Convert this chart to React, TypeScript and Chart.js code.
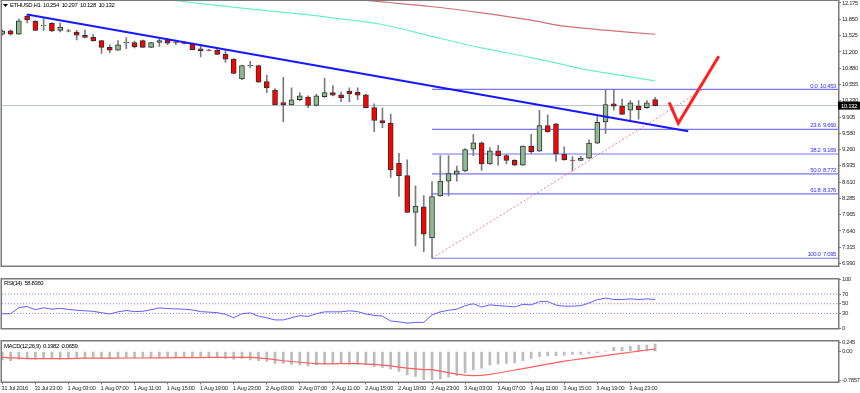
import React, { useEffect, useRef } from "react";
import { Chart, registerables } from "chart.js";
Chart.register(...registerables);

const FONT = "'Liberation Sans', Arial, sans-serif";

// ETHUSD H1 candles, index 0 = 31 Jul 2016 19:00
const opens = [11.551, 11.622, 11.551, 11.914, 11.813, 11.720, 11.769, 11.628, 11.620, 11.597,
  11.532, 11.489, 11.426, 11.292, 11.235, 11.378, 11.387, 11.426, 11.292, 11.387,
  11.437, 11.397, 11.378, 11.361, 11.260, 11.239, 11.235, 11.151, 11.056, 10.663,
  10.924, 10.930, 10.612, 10.434, 10.192, 10.148, 10.249, 10.301, 10.135, 10.312,
  10.389, 10.345, 10.421, 10.396, 10.345, 10.091, 9.836, 9.786, 8.991, 8.738,
  8.006, 8.120, 7.499, 8.337, 8.629, 8.768, 8.833, 9.264, 9.392, 8.972,
  9.233, 9.138, 9.043, 8.947, 9.329, 9.226, 9.735, 9.767, 9.169, 9.047,
  9.043, 9.087, 9.386, 9.805, 10.168, 10.122, 10.040, 10.116, 10.091, 10.254];
const highs = [11.641, 11.641, 11.851, 11.946, 11.822, 11.864, 11.784, 11.775, 11.647, 11.628,
  11.641, 11.546, 11.431, 11.342, 11.426, 11.483, 11.418, 11.437, 11.393, 11.456,
  11.469, 11.437, 11.412, 11.374, 11.311, 11.250, 11.279, 11.227, 11.069, 10.936,
  11.012, 10.936, 10.739, 10.472, 10.694, 10.484, 10.389, 10.326, 10.358, 10.675,
  10.530, 10.402, 10.484, 10.484, 10.354, 10.168, 10.084, 9.963, 9.182, 9.054,
  8.534, 8.343, 8.623, 9.138, 9.138, 8.928, 9.277, 9.563, 9.411, 9.296,
  9.340, 9.163, 9.058, 9.334, 9.563, 10.040, 9.944, 9.773, 9.310, 9.119,
  9.125, 9.449, 9.912, 10.440, 10.453, 10.263, 10.230, 10.230, 10.230, 10.297];
const lows = [11.527, 11.532, 11.546, 11.775, 11.622, 11.628, 11.603, 11.597, 11.597, 11.437,
  11.479, 11.412, 11.170, 11.184, 11.231, 11.266, 11.279, 11.288, 11.288, 11.311,
  11.342, 11.342, 11.355, 11.241, 11.102, 11.220, 11.145, 10.993, 10.764, 10.650,
  10.884, 10.593, 10.389, 10.145, 9.805, 10.145, 10.230, 10.091, 10.126, 10.293,
  10.326, 10.211, 10.211, 10.249, 10.085, 9.615, 9.691, 8.705, 8.324, 8.000,
  7.339, 7.224, 7.095, 8.324, 8.337, 8.629, 8.820, 9.138, 8.845, 8.963,
  8.947, 8.972, 8.938, 8.940, 9.182, 9.220, 9.601, 9.029, 9.040, 8.833,
  9.035, 9.080, 9.373, 9.577, 10.040, 9.955, 9.849, 9.863, 10.078, 10.128];
const closes = [11.616, 11.551, 11.818, 11.837, 11.628, 11.727, 11.616, 11.693, 11.614, 11.532,
  11.489, 11.418, 11.292, 11.235, 11.342, 11.397, 11.298, 11.292, 11.387, 11.426,
  11.374, 11.389, 11.370, 11.246, 11.227, 11.231, 11.151, 11.056, 10.770, 10.930,
  10.934, 10.598, 10.484, 10.148, 10.148, 10.249, 10.326, 10.135, 10.326, 10.389,
  10.339, 10.288, 10.364, 10.339, 10.091, 9.836, 9.786, 8.852, 8.738, 8.006,
  8.133, 7.575, 8.324, 8.629, 8.782, 8.833, 9.258, 9.392, 8.972, 9.233,
  9.138, 9.043, 8.947, 9.329, 9.214, 9.735, 9.607, 9.169, 9.054, 9.039,
  9.087, 9.386, 9.798, 10.154, 10.122, 9.958, 10.187, 10.053, 10.187, 10.132];

const rsiValues = [29.4, 29.4, 42, 44.4, 37.7, 41.6, 38.8, 40.5, 38.3, 36.6,
  35.5, 34.4, 31.6, 28.8, 33.3, 36.1, 33.8, 34.4, 37.7, 41.6,
  40, 39.4, 38.8, 37.2, 33.8, 32.7, 31.6, 28.3, 21.1, 29.4,
  31.1, 24.4, 21.1, 16.6, 16.6, 21.1, 25.5, 23.8, 29.4, 33.3,
  33.3, 33.3, 35.5, 33.8, 28.8, 26.1, 24.4, 14.4, 12.7, 10,
  11.6, 11.6, 27, 33.3, 36.6, 38.8, 46, 50, 43.3, 47.7,
  46, 45, 43.3, 48.8, 47.7, 54.4, 54.4, 47.2, 45, 45,
  46, 51.6, 58.3, 61.6, 58.8, 58.8, 60, 58.8, 60, 58.836];
const rsiLevels = [70, 50, 30];

const macdHist = [-0.23, -0.25, -0.21, -0.19, -0.21, -0.19, -0.19, -0.21, -0.19, -0.16,
  -0.19, -0.16, -0.17, -0.19, -0.16, -0.16, -0.17, -0.16, -0.16, -0.15,
  -0.15, -0.15, -0.15, -0.16, -0.16, -0.17, -0.17, -0.19, -0.21, -0.19,
  -0.23, -0.25, -0.27, -0.32, -0.32, -0.35, -0.36, -0.39, -0.36, -0.34,
  -0.34, -0.32, -0.34, -0.34, -0.36, -0.41, -0.43, -0.48, -0.54, -0.63,
  -0.67, -0.76, -0.76, -0.74, -0.69, -0.65, -0.58, -0.50, -0.45, -0.36,
  -0.34, -0.32, -0.30, -0.25, -0.19, -0.14, -0.12, -0.11, -0.10, -0.08,
  -0.07, -0.05, -0.03, 0.01, 0.11, 0.11, 0.14, 0.17, 0.17, 0.1982];
const macdSignal = [-0.16, -0.17, -0.18, -0.19, -0.19, -0.19, -0.195, -0.195, -0.19, -0.185,
  -0.18, -0.18, -0.18, -0.18, -0.18, -0.175, -0.175, -0.175, -0.17, -0.17,
  -0.17, -0.165, -0.165, -0.165, -0.165, -0.16, -0.16, -0.16, -0.16, -0.16,
  -0.16, -0.17, -0.19, -0.22, -0.25, -0.27, -0.29, -0.31, -0.33, -0.335,
  -0.335, -0.33, -0.33, -0.33, -0.34, -0.35, -0.37, -0.39, -0.42, -0.45,
  -0.47, -0.49, -0.49, -0.53, -0.57, -0.61, -0.64, -0.65, -0.645, -0.62,
  -0.58, -0.54, -0.50, -0.46, -0.42, -0.38, -0.34, -0.30, -0.26, -0.23,
  -0.20, -0.17, -0.14, -0.11, -0.08, -0.05, -0.02, 0.01, 0.04, 0.0659];

// moving averages (candle index, price)
const maFastX = [15, 21.3, 29, 36, 40, 46, 52, 58, 64, 70, 73, 79];
const maFastY = [12.33, 12.213, 12.07, 11.956, 11.879, 11.746, 11.508, 11.279, 11.088, 10.869, 10.783, 10.625];
const maSlowX = [40, 44.8, 51.8, 58, 64, 67.5, 73, 79];
const maSlowY = [12.3, 12.213, 12.104, 11.978, 11.832, 11.723, 11.632, 11.551];

// drawn objects
const trendX = [3, 83];
const trendY = [11.946, 9.62];
const fibPct = ["0.0", "23.6", "38.2", "50.0", "61.8", "100.0"];
const fibLevels = [10.453, 9.66, 9.169, 8.772, 8.376, 7.095];
const fibStartX = 52;
const fibDiagX = [52, 84.8];
const fibDiagY = [7.095, 10.453];
const arrowX = [80.7, 81.8, 86.7];
const arrowY = [10.198, 9.782, 11.113];

const priceTicks = [12.175, 11.85, 11.525, 11.2, 10.88, 10.555, 10.23, 9.905, 9.58, 9.26, 8.935, 8.61, 8.285, 7.965, 7.64, 7.315, 6.99];
const rsiTicks = [100, 70, 50, 30, 0];
const macdTicks = [0.245, 0, -0.7857];
const macdTickLabels = ["0.245", "0.00", "-0.7857"];
const xTickIndex = [0, 4, 8, 12, 16, 20, 24, 28, 32, 36, 40, 44, 48, 52, 56, 60, 64, 68, 72, 76];
const xTickLabels = ["31 Jul 2016", "31 Jul 23:00", "1 Aug 03:00", "1 Aug 07:00", "1 Aug 11:00", "1 Aug 15:00",
  "1 Aug 19:00", "1 Aug 23:00", "2 Aug 03:00", "2 Aug 07:00", "2 Aug 11:00", "2 Aug 15:00", "2 Aug 19:00",
  "2 Aug 23:00", "3 Aug 03:00", "3 Aug 07:00", "3 Aug 11:00", "3 Aug 15:00", "3 Aug 19:00", "3 Aug 23:00"];

const X_MIN = -0.04;
const X_MAX = 101.13;
const axisFont = { family: FONT, size: 6 };
const AXIS_GRAY = "#808080";
const LETTER_SPACING = "-0.4px";

// narrow the small text like the original terminal font
const tightText = {
  id: "tightText",
  beforeLayout(chart: any) { (chart.ctx as any).letterSpacing = LETTER_SPACING; },
  beforeDraw(chart: any) { (chart.ctx as any).letterSpacing = LETTER_SPACING; },
};

function xAxis(show: boolean) {
  return {
    type: "linear" as const,
    min: X_MIN,
    max: X_MAX,
    offset: false,
    display: show,
    grid: { offset: false, drawOnChartArea: false, drawTicks: true, tickLength: 3, color: AXIS_GRAY },
    border: { display: false },
    ticks: {
      font: axisFont, color: "#303030", padding: 0, align: "start" as const, labelOffset: -1,
      maxRotation: 0, minRotation: 0, autoSkip: false,
      callback: (_v: any, i: number) => xTickLabels[i],
    },
    afterBuildTicks: (s: any) => { s.ticks = xTickIndex.map((v) => ({ value: v })); },
    afterFit: (s: any) => { s.height = 11.5; s.paddingLeft = 0; s.paddingRight = 0; },
  };
}

function yAxis(min: number, max: number, ticks: number[], fmt: (v: any, i: number) => string) {
  return {
    type: "linear" as const,
    position: "right" as const,
    min, max,
    beginAtZero: false,
    grid: { drawOnChartArea: false, drawTicks: true, tickLength: 3, color: AXIS_GRAY },
    border: { display: true, color: AXIS_GRAY, width: 1 },
    ticks: { font: axisFont, color: "#303030", padding: 1, autoSkip: false, callback: fmt },
    afterBuildTicks: (s: any) => { s.ticks = ticks.map((v) => ({ value: v })); },
    afterFit: (s: any) => { s.width = 22; s.paddingTop = 0; s.paddingBottom = 0; },
  };
}

function frame(ctx: CanvasRenderingContext2D, a: any) {
  ctx.save();
  ctx.strokeStyle = "#7a7a7a";
  ctx.lineWidth = 1.5;
  ctx.strokeRect(a.left - 0.75, a.top - 0.75, a.right - a.left + 1.5, a.bottom - a.top + 1.5);
  ctx.restore();
}

const lineDs = (data: { x: number; y: number }[], color: string, width: number, order: number, extra: any = {}) => ({
  type: "line" as const,
  data,
  borderColor: color,
  borderWidth: width,
  pointRadius: 0,
  fill: false,
  order,
  ...extra,
});

export default function App() {
  const mainRef = useRef<HTMLCanvasElement>(null);
  const rsiRef = useRef<HTMLCanvasElement>(null);
  const macdRef = useRef<HTMLCanvasElement>(null);

  useEffect(() => {
    const idx = opens.map((_, i) => i);
    const last = opens.length - 1;
    const lastClose = closes[last];

    const mainPlugin = {
      id: "mainDecor",
      afterDraw(chart: any) {
        const { ctx, chartArea: a, scales } = chart;
        const y = scales.y;
        frame(ctx, a);
        ctx.save();
        ctx.letterSpacing = LETTER_SPACING;
        ctx.font = `6px ${FONT}`;
        ctx.fillStyle = "#3434ff";
        ctx.textAlign = "right";
        ctx.textBaseline = "bottom";
        fibLevels.forEach((lv, i) => {
          ctx.fillText(`${fibPct[i]}  ${lv.toFixed(3)}`, a.right - 2, y.getPixelForValue(lv) - 0.5);
        });
        // title
        ctx.fillStyle = "#000";
        ctx.beginPath();
        ctx.moveTo(3, 4); ctx.lineTo(8, 4); ctx.lineTo(5.5, 7); ctx.closePath(); ctx.fill();
        ctx.textAlign = "left";
        ctx.textBaseline = "middle";
        ctx.fillText(`ETHUSD,H1  ${opens[last].toFixed(3)}  ${highs[last].toFixed(3)}  ${lows[last].toFixed(3)}  ${closes[last].toFixed(3)}`, 10, 5.5);
        // price box
        const py = y.getPixelForValue(lastClose);
        ctx.fillStyle = "#000";
        ctx.fillRect(a.right, py - 4, 22, 8);
        ctx.fillStyle = "#fff";
        ctx.fillText(lastClose.toFixed(3), a.right + 3, py + 0.5);
        ctx.restore();
      },
    };

    const main = new Chart(mainRef.current!, {
      type: "bar",
      data: {
        datasets: [
          {
            type: "bar",
            data: idx.map((i) => ({ x: i, y: [lows[i], highs[i]] })) as any,
            backgroundColor: "#7c7c7c",
            borderWidth: 0,
            barThickness: 1,
            grouped: false,
            order: 5,
          },
          {
            type: "bar",
            data: idx.map((i) => ({ x: i, y: [opens[i], closes[i]] })) as any,
            backgroundColor: idx.map((i) => (closes[i] >= opens[i] ? "#8fbc8f" : "#ff0000")),
            borderColor: "#303030",
            borderWidth: 1,
            borderSkipped: false,
            barThickness: 5,
            grouped: false,
            order: 4,
          },
          lineDs([{ x: X_MIN, y: lastClose }, { x: X_MAX, y: lastClose }], "#b8c0c8", 1, 8),
          ...fibLevels.map((lv) => lineDs([{ x: fibStartX, y: lv }, { x: X_MAX, y: lv }], "rgba(70,70,255,0.75)", 1.2, 7)),
          lineDs(maFastX.map((x, i) => ({ x, y: maFastY[i] })), "rgb(110,240,195)", 1.2, 3, { tension: 0.3 }),
          lineDs(maSlowX.map((x, i) => ({ x, y: maSlowY[i] })), "rgb(205,115,115)", 1.2, 3, { tension: 0.3 }),
          lineDs(fibDiagX.map((x, i) => ({ x, y: fibDiagY[i] })), "rgba(255,110,110,0.9)", 1, 3, { borderDash: [2, 2] }),
          lineDs(trendX.map((x, i) => ({ x, y: trendY[i] })), "#1818ff", 2, 2),
          lineDs(arrowX.map((x, i) => ({ x, y: arrowY[i] })), "#ff2020", 3, 1),
        ] as any,
      },
      options: {
        animation: false,
        responsive: false,
        events: [],
        layout: { padding: { left: 2, right: 0, top: 1, bottom: 5 } },
        plugins: { legend: { display: false }, tooltip: { enabled: false } },
        scales: {
          x: xAxis(false),
          y: yAxis(6.951, 12.213, priceTicks, (v: any) => Number(v).toFixed(3)),
        } as any,
      },
      plugins: [tightText, mainPlugin],
    });

    const rsiPlugin = {
      id: "rsiDecor",
      afterDraw(chart: any) {
        const { ctx, chartArea: a } = chart;
        frame(ctx, a);
        ctx.save();
        ctx.letterSpacing = LETTER_SPACING;
        ctx.font = `6px ${FONT}`;
        ctx.fillStyle = "#000";
        ctx.textAlign = "left";
        ctx.textBaseline = "middle";
        ctx.fillText(`RSI(14)  ${rsiValues[last].toFixed(4)}`, a.left + 2, a.top + 3.5);
        ctx.restore();
      },
    };

    const rsi = new Chart(rsiRef.current!, {
      type: "line",
      data: {
        datasets: [
          ...rsiLevels.map((lv) => lineDs([{ x: X_MIN, y: lv }, { x: X_MAX, y: lv }], "rgba(165,95,235,0.9)", 1, 2, { borderDash: [1, 2] })),
          lineDs(idx.map((i) => ({ x: i, y: rsiValues[i] })), "rgb(95,95,255)", 1, 1),
        ] as any,
      },
      options: {
        animation: false,
        responsive: false,
        events: [],
        layout: { padding: { left: 2, right: 0, top: 7.5, bottom: 4.5 } },
        plugins: { legend: { display: false }, tooltip: { enabled: false } },
        scales: {
          x: xAxis(false),
          y: yAxis(0, 100, rsiTicks, (v: any) => String(v)),
        } as any,
      },
      plugins: [tightText, rsiPlugin],
    });

    const macdPlugin = {
      id: "macdDecor",
      afterDraw(chart: any) {
        const { ctx, chartArea: a } = chart;
        frame(ctx, a);
        ctx.save();
        ctx.letterSpacing = LETTER_SPACING;
        ctx.font = `6px ${FONT}`;
        ctx.fillStyle = "#000";
        ctx.textAlign = "left";
        ctx.textBaseline = "middle";
        ctx.fillText(`MACD(12,26,9)  ${macdHist[last].toFixed(4)}  ${macdSignal[last].toFixed(4)}`, a.left + 2, a.top + 4.5);
        ctx.restore();
      },
    };

    const macd = new Chart(macdRef.current!, {
      type: "bar",
      data: {
        datasets: [
          {
            type: "bar",
            data: idx.map((i) => ({ x: i, y: macdHist[i] })) as any,
            backgroundColor: "#bcbcbc",
            borderWidth: 0,
            barThickness: 2,
            grouped: false,
            order: 2,
          },
          lineDs(idx.map((i) => ({ x: i, y: macdSignal[i] })), "rgb(255,95,95)", 1.2, 1),
        ] as any,
      },
      options: {
        animation: false,
        responsive: false,
        events: [],
        layout: { padding: { left: 2, right: 0, top: 5.5, bottom: 0 } },
        plugins: { legend: { display: false }, tooltip: { enabled: false } },
        scales: {
          x: xAxis(true),
          y: yAxis(-0.81, 0.27, macdTicks, (_v: any, i: number) => macdTickLabels[i]),
        } as any,
      },
      plugins: [tightText, macdPlugin],
    });

    return () => {
      main.destroy();
      rsi.destroy();
      macd.destroy();
    };
  }, []);

  return (
    <div style={{ position: "fixed", left: 0, top: 0, width: 860, height: 393, background: "#fff", overflow: "hidden" }}>
      <canvas ref={mainRef} width={860} height={282} style={{ position: "absolute", left: 0, top: 0 }} />
      <canvas ref={rsiRef} width={860} height={72} style={{ position: "absolute", left: 0, top: 272 }} />
      <canvas ref={macdRef} width={860} height={57} style={{ position: "absolute", left: 0, top: 336 }} />
    </div>
  );
}
